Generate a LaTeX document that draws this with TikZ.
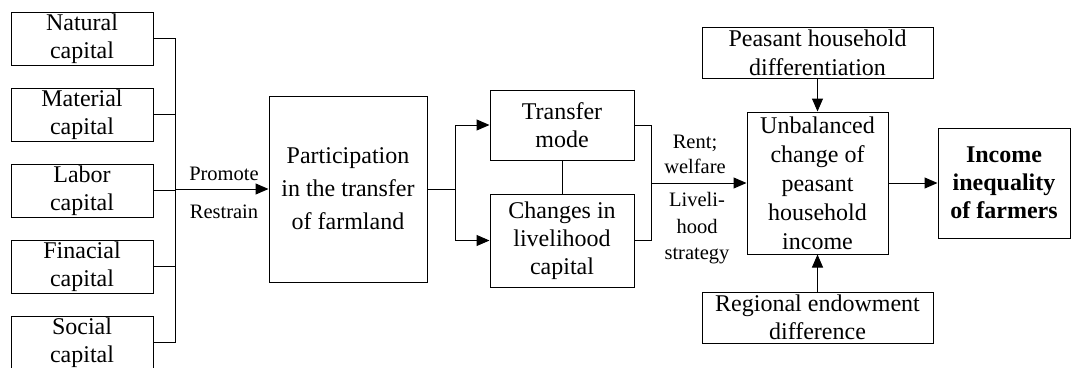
\documentclass[tikz,border=0pt]{standalone}
\usepackage{fontspec}
\setmainfont{Liberation Serif}
\usetikzlibrary{arrows.meta,positioning,calc}

\begin{document}
\begin{tikzpicture}[
    x=1pt, y=-1pt,
    box/.style={rectangle, draw=black, fill=white, align=center, inner sep=1pt, line width=1pt, font=\fontsize{24}{28}\selectfont},
    capbox/.style={box, minimum width=142pt, minimum height=53pt},
    arrow/.style={-{Triangle[length=13pt,width=11pt]}, line width=1pt},
    link/.style={line width=1pt},
    lbl/.style={align=center, inner sep=0pt, font=\fontsize{20.5}{25}\selectfont}
]
\useasboundingbox (0,0) rectangle (1071,367);

% five kinds of capital
\node[capbox] (nat) at (82,38.5) {Natural\\capital};
\node[capbox, below=22pt of nat] (mat) {Material\\capital};
\node[capbox, below=22pt of mat] (lab) {Labor\\capital};
\node[capbox, below=22pt of lab] (fin) {Finacial\\capital};
\node[capbox, below=22pt of fin] (soc) {Social\\capital};

\node[box, minimum width=158pt, minimum height=186pt, font=\fontsize{24}{33}\selectfont] (part) at (348,189) {Participation\\in the transfer\\of farmland};

\node[box, minimum width=144pt, minimum height=70pt] (tm) at (562,125) {Transfer\\mode};
\node[box, minimum width=144pt, minimum height=93pt] (chg) at (562,240.5) {Changes in\\livelihood\\capital};

\node[box, minimum width=141pt, minimum height=142pt, inner sep=0pt, font=\fontsize{24}{29}\selectfont] (unb) at (817.5,183) {Unbalanced\\change of\\peasant\\household\\income};
\node[box, minimum width=231pt, minimum height=51pt, font=\fontsize{24}{29}\selectfont] (phd) at (817.5,52.5) {Peasant household\\differentiation};
\node[box, minimum width=231pt, minimum height=51pt] (red) at (817.5,317.5) {Regional endowment\\difference};
\node[box, minimum width=132pt, minimum height=110pt, font=\fontsize{24}{28}\selectfont\bfseries] (inc) at (1004,183) {Income\\inequality\\of farmers};

% labels
\node[lbl] (prom) at (224,174) {Promote};
\node[lbl] (rest) at (224,212) {Restrain};
\node[lbl] (rent) at (695,154.5) {Rent;\\welfare};
\node[lbl, font=\fontsize{20.5}{26.5}\selectfont] (strat) at (697,228.5) {Liveli-\\hood\\strategy};

% connectors
\coordinate (bus) at (175,189);
\foreach \n in {nat,mat,lab,fin,soc}
    \draw[link] (\n.east) -| (bus);
\draw[arrow] (bus) -- (part.west);

\coordinate (split) at (455,189);
\draw[link] (part.east) -- (split);
\draw[arrow] (split) |- (tm.west);
\draw[arrow] (split) |- (chg.west);
\draw[link] (tm.south) -- (tm.south |- chg.north);

\coordinate (join) at (651,183);
\draw[link] (tm.east) -| (join);
\draw[link] (chg.east) -| (join);
\draw[arrow] (join) -- (unb.west);

\draw[arrow] (phd) -- (unb);
\draw[arrow] (red) -- (unb);
\draw[arrow] (unb) -- (inc);
\end{tikzpicture}
\end{document}
